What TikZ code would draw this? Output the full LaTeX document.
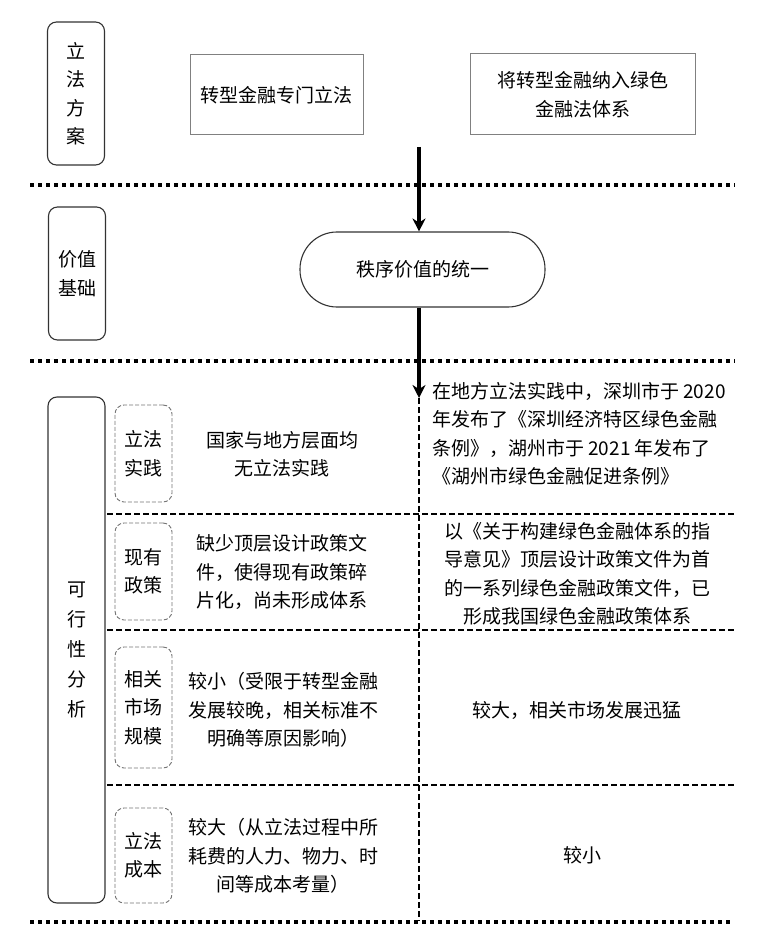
\documentclass[tikz,border=0pt]{standalone}
\usepackage{fontspec}
\setmainfont{Noto Sans CJK SC}
\usetikzlibrary{arrows.meta,positioning}

\begin{document}
\begin{tikzpicture}[x=1pt, y=-1pt, >={Stealth[length=13pt,width=13pt]},
        txt/.style={font=\fontsize{19}{28.5}\selectfont, inner sep=0pt},
        head/.style={txt, draw=black!80, line width=1.1pt, rounded corners=9pt, minimum width=57pt, align=center},
        plan/.style={txt, draw=black!50, line width=1pt, align=center, minimum height=80pt},
        tag/.style={txt, draw=black!55, line width=0.9pt, dash pattern=on 4pt off 2pt, rounded corners=9pt, minimum width=57pt, align=center},
        cell/.style={txt, align=center},
        sep/.style={line width=4pt, dash pattern=on 4pt off 4pt},
        rowline/.style={line width=2.4pt, dash pattern=on 6pt off 3pt}]
        \useasboundingbox (0,0) rectangle (777,949);
        % Nodes
        \node[head, minimum height=143pt] (plan) at (76,93.5) {立\\法\\方\\案};
        \node[plan, minimum width=173pt] (special) at (276.5,95) {转型金融专门立法};
        \node[plan, minimum width=225pt, minimum height=81pt] (green) at (582.5,94.5) {将转型金融纳入绿色\\金融法体系};
        \node[head, minimum height=133pt] (base) at (77,273.5) {价值\\基础};
        \node[txt, draw=black!80, line width=1.1pt, rounded corners=37pt, minimum width=245pt, minimum height=75pt] (value) at (422.5,269.5) {秩序价值的统一};
        \node[head, minimum height=506pt, font=\fontsize{19}{30}\selectfont] (feas) at (76.5,650) {可\\行\\性\\分\\析};
        \node[tag, minimum height=97pt] (t1) at (143.5,453.5) {立法\\实践};
        \node[tag, minimum height=97pt] (t2) at (143.5,571.5) {现有\\政策};
        \node[tag, minimum height=121pt] (t3) at (143.5,707.5) {相关\\市场\\规模};
        \node[tag, minimum height=95pt] (t4) at (143.5,855.5) {立法\\成本};
        % left column
        \node[cell] (a1) at (282,454) {国家与地方层面均\\无立法实践};
        \node[cell] (a2) at (282,572) {缺少顶层设计政策文\\件，使得现有政策碎\\片化，尚未形成体系};
        \node[cell] (a3) at (283,710) {较小（受限于转型金融\\发展较晚，相关标准不\\明确等原因影响）};
        \node[cell] (a4) at (283,856) {较大（从立法过程中所\\耗费的人力、物力、时\\间等成本考量）};
        % right column
        \node[txt, align=left, anchor=west] (b1) at (432,434) {在地方立法实践中，深圳市于 2020\\年发布了《深圳经济特区绿色金融\\条例》，湖州市于 2021 年发布了\\《湖州市绿色金融促进条例》};
        \node[cell] (b2) at (577,574) {以《关于构建绿色金融体系的指\\导意见》顶层设计政策文件为首\\的一系列绿色金融政策文件，已\\形成我国绿色金融政策体系};
        \node[cell] (b3) at (577,710) {较大，相关市场发展迅猛};
        \node[cell] (b4) at (582,855) {较小};
        \coordinate (top) at (419,147);
        \coordinate (split) at (419,398);
        \coordinate (bottom) at (419,921);
        % separators
        \draw[sep] (30,185) -- (735,185);
        \draw[sep] (30,361) -- (735,361);
        \draw[sep] (30,922) -- (730,922);
        \foreach \y in {514,630,785}
            \draw[rowline] (107,\y) -- (735,\y);
        % Edges
        \draw[->, line width=3.2pt] (top) -- (value.north -| top);
        \draw[->, line width=3.2pt] (value.south -| split) -- (split);
        \draw[rowline] (split) -- (bottom);
\end{tikzpicture}
\end{document}
